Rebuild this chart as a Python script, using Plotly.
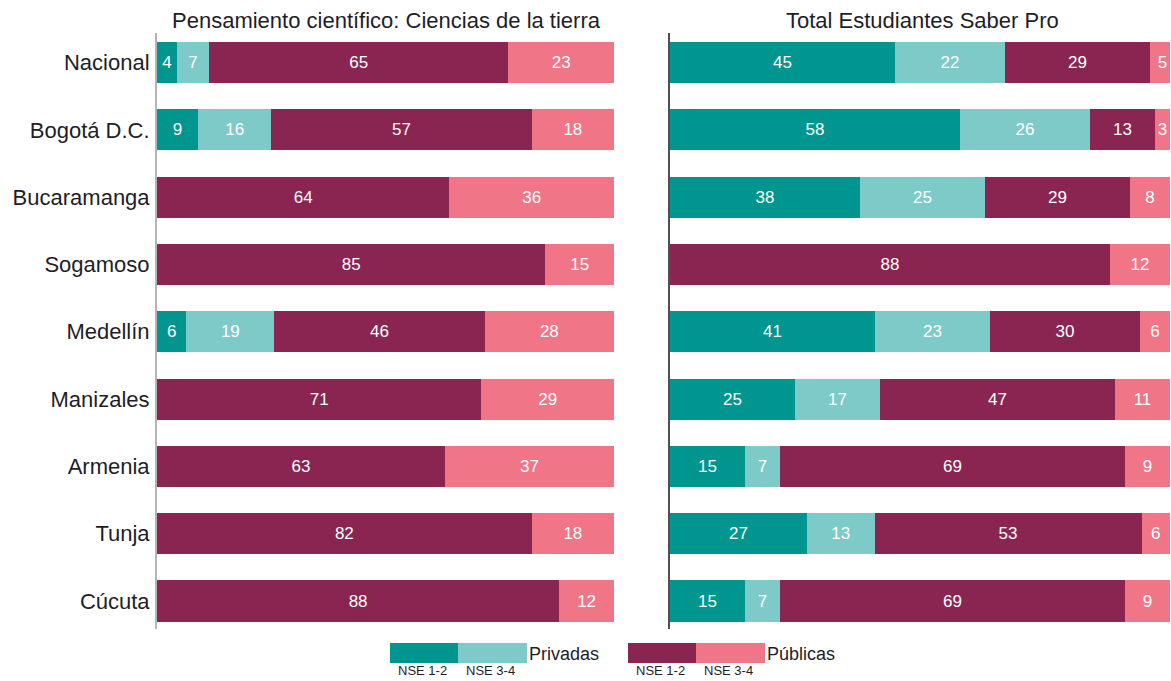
import plotly.graph_objects as go

W, H = 1171, 681

categories = ["Nacional", "Bogotá D.C.", "Bucaramanga", "Sogamoso", "Medellín",
              "Manizales", "Armenia", "Tunja", "Cúcuta"]

series_names = ["Privadas NSE 1-2", "Privadas NSE 3-4", "Públicas NSE 1-2", "Públicas NSE 3-4"]
colors = ["#00968F", "#7ECAC8", "#8A2552", "#F07587"]

# Left panel: Pensamiento científico: Ciencias de la tierra (shares, % of students)
left_priv_12 = [4.4, 9, 0, 0, 6.4, 0, 0, 0, 0]
left_priv_34 = [7.0, 16, 0, 0, 19.3, 0, 0, 0, 0]
left_pub_12 = [65.5, 57, 64, 85, 46.0, 71, 63, 82, 88]
left_pub_34 = [23.1, 18, 36, 15, 28.3, 29, 37, 18, 12]
# printed (rounded) labels
left_priv_12_lbl = [4, 9, 0, 0, 6, 0, 0, 0, 0]
left_priv_34_lbl = [7, 16, 0, 0, 19, 0, 0, 0, 0]
left_pub_12_lbl = [65, 57, 64, 85, 46, 71, 63, 82, 88]
left_pub_34_lbl = [23, 18, 36, 15, 28, 29, 37, 18, 12]

# Right panel: Total Estudiantes Saber Pro
right_priv_12 = [45, 58, 38, 0, 41, 25, 15, 27.4, 15]
right_priv_34 = [22, 26, 25, 0, 23, 17, 7, 13.5, 7]
right_pub_12 = [29, 13, 29, 88, 30, 47, 69, 53.4, 69]
right_pub_34 = [5, 3, 8, 12, 6, 11, 9, 5.7, 9]
right_priv_12_lbl = [45, 58, 38, 0, 41, 25, 15, 27, 15]
right_priv_34_lbl = [22, 26, 25, 0, 23, 17, 7, 13, 7]
right_pub_12_lbl = [29, 13, 29, 88, 30, 47, 69, 53, 69]
right_pub_34_lbl = [5, 3, 8, 12, 6, 11, 9, 6, 9]

titles = ["Pensamiento científico: Ciencias de la tierra", "Total Estudiantes Saber Pro"]
legend_groups = ["Privadas", "Públicas"]
legend_sub = ["NSE 1-2", "NSE 3-4"]

FONT = "Liberation Sans, Arial, sans-serif"
TXT = "#1e1e28"

def px(x):
    return x / W

def py(y):
    return 1 - y / H

fig = go.Figure()

panels = [
    ([left_priv_12, left_priv_34, left_pub_12, left_pub_34],
     [left_priv_12_lbl, left_priv_34_lbl, left_pub_12_lbl, left_pub_34_lbl], "x", "y"),
    ([right_priv_12, right_priv_34, right_pub_12, right_pub_34],
     [right_priv_12_lbl, right_priv_34_lbl, right_pub_12_lbl, right_pub_34_lbl], "x2", "y2"),
]

for series, labels, xa, ya in panels:
    for name, vals, lbls, col in zip(series_names, series, labels, colors):
        fig.add_trace(go.Bar(
            y=categories, x=vals, orientation="h", name=name,
            marker=dict(color=col, line=dict(width=0)),
            text=[str(v) if v > 0 else "" for v in lbls],
            textposition="inside", insidetextanchor="middle", textangle=0,
            textfont=dict(color="white", size=17, family=FONT),
            xaxis=xa, yaxis=ya, showlegend=False, hoverinfo="skip",
            width=0.61,
        ))

y_dom = [py(629), py(33)]
yrange = [8.416, -0.438]

fig.update_layout(
    width=W, height=H,
    margin=dict(l=0, r=0, t=0, b=0),
    barmode="stack",
    plot_bgcolor="white", paper_bgcolor="white",
    font=dict(family=FONT, color=TXT),
    uniformtext=dict(minsize=17, mode="show"),
    xaxis=dict(domain=[px(157), px(614)], range=[0, 100], visible=False, fixedrange=True),
    xaxis2=dict(domain=[px(670), px(1170)], range=[0, 100], visible=False, fixedrange=True),
    yaxis=dict(domain=y_dom, range=yrange, type="category", anchor="x",
               showline=True, linecolor="#b4b4b4", linewidth=2, ticks="",
               showgrid=False, tickfont=dict(size=22, color=TXT, family=FONT),
               ticklabelstandoff=1, fixedrange=True),
    yaxis2=dict(domain=y_dom, range=yrange, type="category", anchor="x2",
                showline=True, linecolor="#505050", linewidth=1.5, ticks="",
                showgrid=False, showticklabels=False, fixedrange=True),
)

annotations = []
shapes = []
# panel titles
for title, cx in zip(titles, [386, 922]):
    annotations.append(dict(text=title, x=px(cx), y=py(20), xref="paper", yref="paper",
                            showarrow=False, xanchor="center", yanchor="middle",
                            font=dict(size=22, color=TXT, family=FONT)))

# custom legend
legend_blocks = [
    (390, colors[0], colors[1], legend_groups[0]),
    (628, colors[2], colors[3], legend_groups[1]),
]
for x0, c1, c2, label in legend_blocks:
    shapes.append(dict(type="rect", xref="paper", yref="paper",
                       x0=px(x0), x1=px(x0 + 68), y0=py(663), y1=py(643),
                       fillcolor=c1, line=dict(width=0)))
    shapes.append(dict(type="rect", xref="paper", yref="paper",
                       x0=px(x0 + 68), x1=px(x0 + 137), y0=py(663), y1=py(643),
                       fillcolor=c2, line=dict(width=0)))
    annotations.append(dict(text=label, x=px(x0 + 137), y=py(654), xref="paper", yref="paper",
                            showarrow=False, xanchor="left", yanchor="middle",
                            font=dict(size=18, color=TXT, family=FONT)))
    for sub, dx in zip(legend_sub, [32, 100]):
        annotations.append(dict(text=sub, x=px(x0 + dx), y=py(670), xref="paper", yref="paper",
                                showarrow=False, xanchor="center", yanchor="middle",
                                font=dict(size=13, color=TXT, family=FONT)))

fig.update_layout(annotations=annotations, shapes=shapes)

fig.write_html("out.html", config={"displayModeBar": False},
               post_script="document.body.style.margin='0';document.body.style.padding='0';")
